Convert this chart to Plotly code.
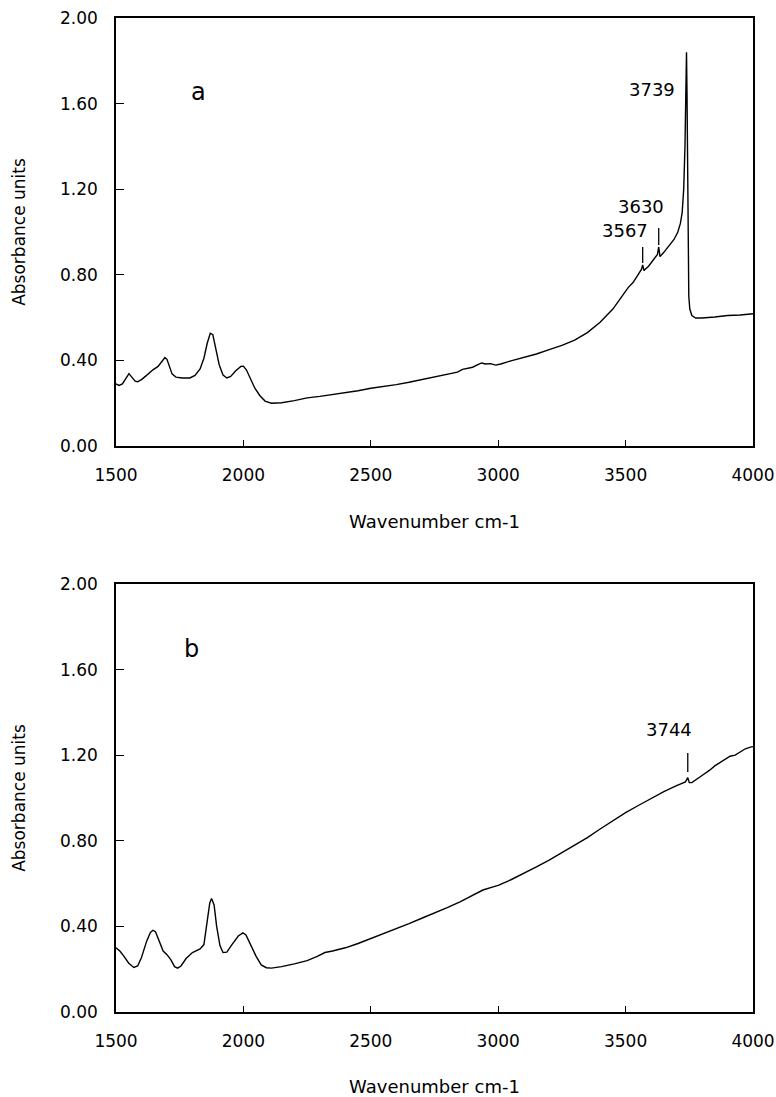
import plotly.graph_objects as go

# ---------------- data ----------------
wn_a = [1500, 1512, 1525, 1540, 1551, 1562, 1575, 1585, 1600, 1620, 1645, 1665, 1680, 1692, 1700,
        1710, 1720, 1735, 1760, 1790, 1810, 1830, 1845, 1858, 1870, 1880, 1892, 1905, 1920, 1935,
        1950, 1970, 1990, 2000, 2012, 2025, 2045, 2065, 2085, 2110, 2150, 2200, 2250, 2300, 2350,
        2400, 2450, 2500, 2550, 2600, 2650, 2700, 2750, 2800, 2840, 2860, 2880, 2900, 2920, 2935,
        2950, 2970, 2990, 3010, 3050, 3100, 3150, 3200, 3250, 3300, 3350, 3400, 3450, 3480, 3510,
        3530, 3550, 3562, 3567, 3572, 3590, 3610, 3625, 3630, 3635, 3650, 3670, 3690, 3705, 3715,
        3722, 3728, 3733, 3737, 3739, 3741, 3743, 3745, 3748, 3752, 3760, 3775, 3800, 3850, 3900,
        3950, 4000]
abs_a = [0.290, 0.283, 0.290, 0.320, 0.338, 0.322, 0.303, 0.300, 0.310, 0.330, 0.356, 0.372, 0.392, 0.413, 0.405,
         0.370, 0.337, 0.322, 0.318, 0.318, 0.330, 0.360, 0.410, 0.480, 0.527, 0.520, 0.460, 0.380, 0.332, 0.318,
         0.325, 0.352, 0.372, 0.373, 0.355, 0.320, 0.270, 0.235, 0.210, 0.200, 0.202, 0.212, 0.225, 0.232, 0.240,
         0.247, 0.258, 0.270, 0.278, 0.287, 0.298, 0.310, 0.322, 0.335, 0.345, 0.358, 0.362, 0.368, 0.380, 0.388,
         0.383, 0.385, 0.378, 0.383, 0.398, 0.414, 0.430, 0.450, 0.470, 0.495, 0.530, 0.578, 0.640, 0.690, 0.740,
         0.765, 0.800, 0.825, 0.846, 0.820, 0.840, 0.870, 0.895, 0.930, 0.885, 0.905, 0.935, 0.965, 1.000, 1.040,
         1.090, 1.200, 1.400, 1.700, 1.840, 1.650, 1.200, 0.850, 0.700, 0.640, 0.610, 0.598, 0.598, 0.603, 0.610,
         0.612, 0.618]

wn_b = [1500, 1515, 1530, 1550, 1570, 1585, 1600, 1620, 1635, 1645, 1655, 1670, 1685, 1700, 1715,
        1730, 1742, 1755, 1775, 1800, 1830, 1845, 1858, 1868, 1875, 1885, 1895, 1908, 1920, 1935,
        1955, 1980, 1998, 2010, 2030, 2050, 2070, 2090, 2110, 2150, 2200, 2250, 2290, 2320, 2350,
        2400, 2450, 2500, 2550, 2600, 2650, 2700, 2750, 2800, 2850, 2900, 2940, 2980, 3000, 3050,
        3100, 3150, 3200, 3250, 3300, 3350, 3400, 3450, 3500, 3550, 3600, 3650, 3700, 3735, 3744,
        3750, 3760, 3780, 3800, 3830, 3850, 3870, 3890, 3910, 3930, 3950, 3970, 3990, 4000]
abs_b = [0.300, 0.285, 0.262, 0.228, 0.208, 0.215, 0.255, 0.330, 0.372, 0.382, 0.375, 0.330, 0.285, 0.268, 0.245,
         0.212, 0.205, 0.215, 0.250, 0.278, 0.295, 0.315, 0.420, 0.510, 0.530, 0.500, 0.400, 0.310, 0.278, 0.280,
         0.315, 0.355, 0.370, 0.360, 0.310, 0.260, 0.220, 0.207, 0.205, 0.212, 0.225, 0.240, 0.260, 0.278, 0.285,
         0.300, 0.320, 0.343, 0.365, 0.390, 0.413, 0.438, 0.462, 0.488, 0.515, 0.545, 0.570, 0.585, 0.592, 0.618,
         0.647, 0.678, 0.710, 0.745, 0.780, 0.815, 0.855, 0.895, 0.932, 0.965, 0.998, 1.030, 1.058, 1.075, 1.095,
         1.072, 1.072, 1.090, 1.105, 1.130, 1.150, 1.165, 1.180, 1.195, 1.200, 1.215, 1.230, 1.238, 1.240]

# peak labels and marker ticks
peak_text_a = ["3739", "3630", "3567"]
peak_text_x_a = [3604, 3560, 3498]
peak_text_y_a = [1.668, 1.117, 1.005]
mark_x_a = [3567, 3630]
mark_y0_a = [0.855, 0.939]
mark_y1_a = [0.930, 1.019]

peak_text_b = ["3744"]
peak_text_x_b = [3670]
peak_text_y_b = [1.322]
mark_x_b = [3744]
mark_y0_b = [1.121]
mark_y1_b = [1.210]

y_ticks = [0.0, 0.4, 0.8, 1.2, 1.6, 2.0]
x_ticks = [1500, 2000, 2500, 3000, 3500, 4000]

FONT = "DejaVu Sans"
W, H = 776, 1097

fig = go.Figure()
fig.add_trace(go.Scatter(x=wn_a, y=abs_a, mode="lines", line=dict(color="black", width=1.4),
                         xaxis="x", yaxis="y", showlegend=False, hoverinfo="skip"))
fig.add_trace(go.Scatter(x=wn_b, y=abs_b, mode="lines", line=dict(color="black", width=1.4),
                         xaxis="x2", yaxis="y2", showlegend=False, hoverinfo="skip"))

def xax(anchor):
    return dict(domain=[116 / W, 753 / W], anchor=anchor, range=[1500, 4000], automargin=False,
                tickvals=x_ticks, ticktext=[str(v) for v in x_ticks],
                ticks="inside", ticklen=6, tickwidth=1.3, tickcolor="black",
                showline=True, linecolor="black", linewidth=1.5, mirror=True,
                showgrid=False, zeroline=False,
                tickfont=dict(family=FONT, size=17, color="black"),
                ticklabelstandoff=13,
                title=dict(text="Wavenumber cm-1", font=dict(family=FONT, size=18, color="black"),
                           standoff=31))

def yax(anchor, dom):
    return dict(domain=dom, anchor=anchor, range=[0, 2.0], automargin=False,
                tickvals=y_ticks, ticktext=["%.2f" % v for v in y_ticks],
                ticks="inside", ticklen=8, tickwidth=1.3, tickcolor="black",
                showline=True, linecolor="black", linewidth=1.5, mirror=True,
                showgrid=False, zeroline=False,
                tickfont=dict(family=FONT, size=17, color="black"),
                ticklabelstandoff=13,
                title=dict(text="Absorbance units", font=dict(family=FONT, size=17, color="black"),
                           standoff=30))

fig.update_layout(
    width=W, height=H,
    margin=dict(l=0, r=0, t=0, b=0, autoexpand=False),
    paper_bgcolor="white", plot_bgcolor="white",
    xaxis=xax("y"),
    yaxis=yax("x", [1 - 446 / H, 1 - 18 / H]),
    xaxis2=xax("y2"),
    yaxis2=yax("x2", [1 - 1012 / H, 1 - 584 / H]),
)

annotations = [
    dict(text="a", x=1825, y=1.655, xref="x", yref="y", showarrow=False,
         font=dict(family=FONT, size=24, color="black")),
    dict(text="b", x=1795, y=1.695, xref="x2", yref="y2", showarrow=False,
         font=dict(family=FONT, size=24, color="black")),
]
for t, x, y in zip(peak_text_a, peak_text_x_a, peak_text_y_a):
    annotations.append(dict(text=t, x=x, y=y, xref="x", yref="y", showarrow=False,
                            font=dict(family=FONT, size=18, color="black")))
for t, x, y in zip(peak_text_b, peak_text_x_b, peak_text_y_b):
    annotations.append(dict(text=t, x=x, y=y, xref="x2", yref="y2", showarrow=False,
                            font=dict(family=FONT, size=18, color="black")))
fig.update_layout(annotations=annotations)

shapes = []
for x, y0, y1 in zip(mark_x_a, mark_y0_a, mark_y1_a):
    shapes.append(dict(type="line", xref="x", yref="y", x0=x, x1=x, y0=y0, y1=y1,
                       line=dict(color="black", width=1.3)))
for x, y0, y1 in zip(mark_x_b, mark_y0_b, mark_y1_b):
    shapes.append(dict(type="line", xref="x2", yref="y2", x0=x, x1=x, y0=y0, y1=y1,
                       line=dict(color="black", width=1.3)))
fig.update_layout(shapes=shapes)

fig.write_html("out.html")
